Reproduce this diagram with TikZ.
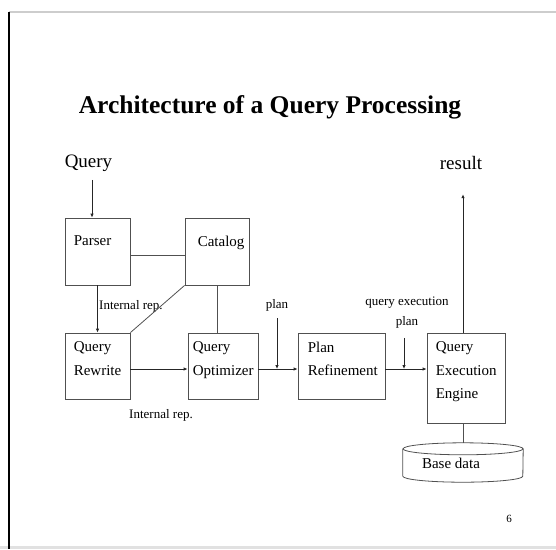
\documentclass[tikz,border=0pt]{standalone}
\usepackage{fontspec}
\setmainfont{Liberation Serif}
\usetikzlibrary{arrows.meta, positioning, calc}
\definecolor{boxgray}{RGB}{80,80,80}
\definecolor{framegray}{RGB}{205,205,205}
\tikzset{
    block/.style={rectangle, draw=boxgray, line width=0.8pt, minimum width=65pt, minimum height=66pt, inner sep=0pt},
    blocktext/.style={anchor=north west, align=left, inner sep=0pt, font=\fontsize{15}{23.5}\selectfont, xshift=9pt, yshift=-9pt},
    bigtext/.style={font=\fontsize{19}{23}\selectfont},
    note/.style={font=\fontsize{13}{20}\selectfont, align=center, inner sep=1pt},
    link/.style={draw=boxgray, line width=0.8pt},
    arrow/.style={-{Latex[length=4pt, width=3.5pt]}, line width=0.8pt, draw=black!85},
}
\begin{document}
\begin{tikzpicture}[x=1pt, y=-1pt]
    \useasboundingbox (0,0) rectangle (556,549);
    % slide frame
    \draw[framegray, line width=1.5pt] (9,12) -- (556,12);
    \fill[framegray!60] (0,546) rectangle (556,549);
    \draw[black, line width=2pt] (9,12) -- (9,549);

    \node[font=\fontsize{25.5}{30}\selectfont\bfseries] (title) at (270,107) {Architecture of a Query Processing};

    \node[bigtext] (query) at (88.5,163) {Query};
    \node[bigtext] (result) at (461,163) {result};

    \node[block, minimum width=65pt, minimum height=67pt, label={[blocktext, yshift=-9pt]north west:Parser}] (parser) at (97.5,251.5) {};
    \node[block, minimum width=64pt, minimum height=67pt, label={[blocktext, xshift=4pt, yshift=-9pt]north west:Catalog}] (catalog) at (217,251.5) {};
    \node[block, minimum width=65pt, label={[blocktext]north west:Query\\Rewrite}] (rewrite) at (97.5,366) {};
    \node[block, minimum width=70pt, label={[blocktext, xshift=-4pt]north west:Query\\Optimizer}] (optimizer) at (223,366) {};
    \node[block, minimum width=87pt, label={[blocktext, xshift=1pt]north west:Plan\\Refinement}] (refine) at (341.5,366) {};
    \node[block, minimum width=78pt, minimum height=90pt, label={[blocktext]north west:Query\\Execution\\Engine}] (engine) at (466,378) {};

    % base data cylinder
    \node[minimum width=120pt, minimum height=39pt, inner sep=0pt, label={[font=\fontsize{15}{18}\selectfont, xshift=-12pt, yshift=-1pt]center:Base data}] (base) at (463,462.5) {};
    \draw[link] ($(base.north)+(0,6)$) ellipse [x radius=60, y radius=6];
    \draw[link] ($(base.north west)+(0,6)$) -- ($(base.south west)+(0,-6)$) arc[start angle=180, end angle=0, x radius=60, y radius=6] -- ($(base.north east)+(0,6)$);

    \node[note, anchor=west] (rep1) at (98,306) {Internal rep.};
    \node[note] (rep2) at (161,415) {Internal rep.};
    \node[note] (plan) at (277,305) {plan};
    \node[note] (qep) at (407,313) {query execution\\plan};
    \node[font=\fontsize{11}{13}\selectfont] (page) at (509,519) {6};

    \draw[arrow, shorten <=5pt] ([xshift=3.5pt]query.south) -- ([xshift=3.5pt]query.south |- parser.north);
    \draw[arrow] (parser.south) -- (rewrite.north);
    \draw[link] ([yshift=-4pt]parser.east) -- ([yshift=-4pt]catalog.west);
    \draw[link] (catalog.south west) -- (rewrite.north east);
    \draw[link] (catalog.south) -- (catalog.south |- optimizer.north);
    \draw[arrow] ([yshift=-3pt]rewrite.east) -- ([yshift=-3pt]optimizer.west);
    \draw[arrow] ([yshift=-3pt]optimizer.east) -- ([yshift=-3pt]refine.west);
    \draw[arrow] ([yshift=-3pt]refine.east) -- ([yshift=-3pt]refine.east -| engine.west);
    \draw[arrow, shorten <=6pt] (plan.south) -- ([yshift=-3pt]plan.south |- refine.west);
    \draw[arrow, shorten <=8pt] ([xshift=-3pt]qep.south) -- ([xshift=-3pt, yshift=-3pt]qep.south |- refine.east);
    \draw[arrow, shorten >=21pt] ([xshift=-3pt]engine.north) -- ([xshift=-3pt]engine.north |- result.south);
    \draw[link] (base.north) -- (base.north |- engine.south);
\end{tikzpicture}
\end{document}
